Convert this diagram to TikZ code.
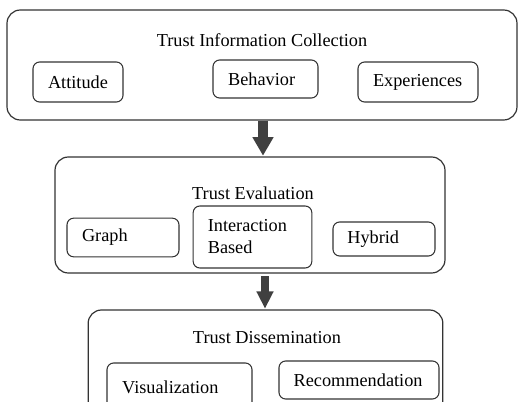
\documentclass[tikz,border=0pt]{standalone}
\usepackage{fontspec}
\setmainfont{Liberation Serif}
\usetikzlibrary{arrows.meta,positioning}

\begin{document}
\begin{tikzpicture}[x=0.75pt, y=-0.75pt,
  stage/.style={draw=black!80, line width=0.9pt, rounded corners=10pt},
  item/.style={draw=black!80, line width=0.8pt, rounded corners=5pt, align=left,
    inner xsep=0pt, inner ysep=0pt, font=\fontsize{13.7}{16.5}\selectfont},
  ttl/.style={font=\fontsize{13.7}{16.5}\selectfont},
  blk/.style={draw=black!75, line width=7.5pt,
    -{Triangle[width=15pt, length=14pt]}, shorten >=0.5pt}
]
  \clip (0,0) rectangle (518,402);

  % stages
  \node[stage, minimum width=382.5pt, minimum height=82.5pt] (col) at (262,65) {};
  \node[stage, minimum width=292.5pt, minimum height=87pt] (eval) at (250,215) {};
  \node[stage, minimum width=266pt, minimum height=78pt] (diss) at (265.5,362) {};

  % titles
  \node[ttl] (colt) at (262,40) {Trust Information Collection};
  \node[ttl] (evalt) at (253,193) {Trust Evaluation};
  \node[ttl] (disst) at (267,338) {Trust Dissemination};

  % collection items
  \node[item, minimum width=67.5pt, minimum height=30pt, text width=45pt] (att) at (78,82) {Attitude};
  \node[item, minimum width=78.75pt, minimum height=28.5pt, text width=56pt] (beh) at (265.5,79) {Behavior};
  \node[item, minimum width=90pt, minimum height=30pt, text width=67.5pt] (exp) at (418,82) {Experiences};

  % evaluation items
  \node[item, minimum width=84pt, minimum height=29pt, text width=61.5pt] (gra) at (123,237.5) {Graph};
  \node[item, minimum width=89pt, minimum height=46.5pt, text width=67pt] (int) at (252.5,237) {Interaction\\Based};
  \node[item, minimum width=76.5pt, minimum height=25.5pt, text width=55pt] (hyb) at (384,239) {Hybrid};

  % dissemination items
  \node[item, minimum width=108.75pt, minimum height=36pt, text width=86pt] (vis) at (179.5,387) {Visualization};
  \node[item, minimum width=120pt, minimum height=28.5pt, text width=98pt] (rec) at (359,380) {Recommendation};

  % block arrows
  \coordinate (mid1) at (263,0);
  \coordinate (mid2) at (265,0);
  \draw[blk] (mid1 |- col.south) -- (mid1 |- eval.north);
  \draw[blk, line width=6pt, -{Triangle[width=12pt, length=13pt]}]
    ([yshift=-2pt]mid2 |- eval.south) -- (mid2 |- diss.north);
\end{tikzpicture}
\end{document}
